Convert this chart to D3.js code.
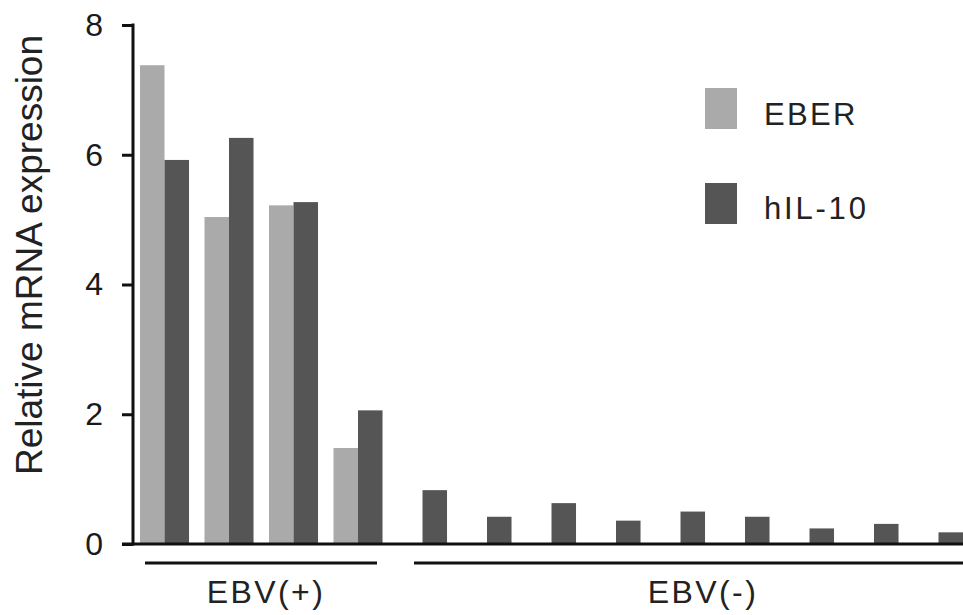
<!DOCTYPE html>
<html>
<head>
<meta charset="utf-8">
<script src="https://cdn.jsdelivr.net/npm/d3@7"></script>
<style>
  html, body { margin: 0; padding: 0; background: #fff; }
  svg { display: block; font-family: "Liberation Sans", Arial, Helvetica, sans-serif; }
</style>
</head>
<body>
<svg id="chart" width="963" height="615"></svg>
<script>
// ---- data ----
const categories = ["P1","P2","P3","P4","N1","N2","N3","N4","N5","N6","N7","N8","N9"];
const eberValues = [7.38, 5.04, 5.22, 1.48, 0, 0, 0, 0, 0, 0, 0, 0, 0];
const il10Values = [5.92, 6.26, 5.27, 2.06, 0.83, 0.42, 0.63, 0.36, 0.50, 0.42, 0.24, 0.31, 0.18];
const seriesNames = ["EBER", "hIL-10"];
const seriesColors = ["#aaaaaa", "#555555"];
const yTicks = [0, 2, 4, 6, 8];
const groupNames = ["EBV(+)", "EBV(-)"];
const groupMembers = [["P1","P4"], ["N1","N9"]];
const yLabel = "Relative mRNA expression";

// ---- layout ----
const svg = d3.select("#chart");
const axisX = 133, y0 = 544, yTop = 25;

const y = d3.scaleLinear().domain([0, 8]).range([y0, yTop]);
const x = d3.scaleBand().domain(categories)
  .range([axisX, axisX + 64.5 * (13 - 0.24 + 2 * 0.1085)])
  .paddingInner(0.24).paddingOuter(0.1085);
const xs = d3.scaleBand().domain(seriesNames).range([0, x.bandwidth()]).padding(0);

const data = categories.map((c, i) => ({ cat: c, vals: [eberValues[i], il10Values[i]] }));

// bars
const g = svg.append("g");
data.forEach(d => {
  seriesNames.forEach((s, j) => {
    const v = d.vals[j];
    if (v <= 0) return;
    g.append("rect")
      .attr("x", x(d.cat) + xs(s))
      .attr("y", y(v))
      .attr("width", xs.bandwidth())
      .attr("height", y(0) - y(v))
      .attr("fill", seriesColors[j]);
  });
});

// y axis
const yAxis = d3.axisLeft(y).tickValues(yTicks).tickSize(11).tickPadding(19).tickFormat(d3.format("d"));
const ya = svg.append("g").attr("transform", `translate(${axisX},0)`).call(yAxis);
ya.select(".domain").remove();
ya.append("line").attr("x1", 0).attr("x2", 0).attr("y1", yTop - 1.5).attr("y2", y0 + 1.5)
  .attr("stroke", "#111").attr("stroke-width", 3);
ya.selectAll(".tick line").attr("stroke", "#111").attr("stroke-width", 3);
ya.selectAll(".tick text").attr("font-size", 32).attr("fill", "#1a1a1a")
  .attr("font-family", "'Liberation Sans', Arial, sans-serif");

// x baseline
svg.append("line").attr("x1", 122).attr("x2", 963).attr("y1", y0).attr("y2", y0)
  .attr("stroke", "#111").attr("stroke-width", 3);

// y label
svg.append("text")
  .attr("transform", `translate(42, ${(475 + 35) / 2}) rotate(-90)`)
  .attr("text-anchor", "middle")
  .attr("font-size", 37)
  .attr("fill", "#222")
  .text(yLabel);

// group brackets
const groupLines = [[145, 377], [414, 963]];
groupNames.forEach((name, i) => {
  const [a, b] = groupLines[i];
  svg.append("line").attr("x1", a).attr("x2", b).attr("y1", 563).attr("y2", 563)
    .attr("stroke", "#111").attr("stroke-width", 3);
});
const groupCenters = [266, 703];
groupNames.forEach((name, i) => {
  svg.append("text").attr("x", groupCenters[i]).attr("y", 603)
    .attr("text-anchor", "middle").attr("font-size", 32).attr("letter-spacing", 2.4)
    .attr("fill", "#222").text(name);
});

// legend
const legendY = [88, 183];
const legendTextY = [125, 219];
seriesNames.forEach((s, j) => {
  svg.append("rect").attr("x", 705).attr("y", legendY[j]).attr("width", 32).attr("height", 41)
    .attr("fill", seriesColors[j]);
  svg.append("text").attr("x", 764).attr("y", legendTextY[j])
    .attr("font-size", 31).attr("letter-spacing", j === 0 ? 2.3 : 2.8)
    .attr("fill", "#222").text(s);
});
</script>
</body>
</html>
